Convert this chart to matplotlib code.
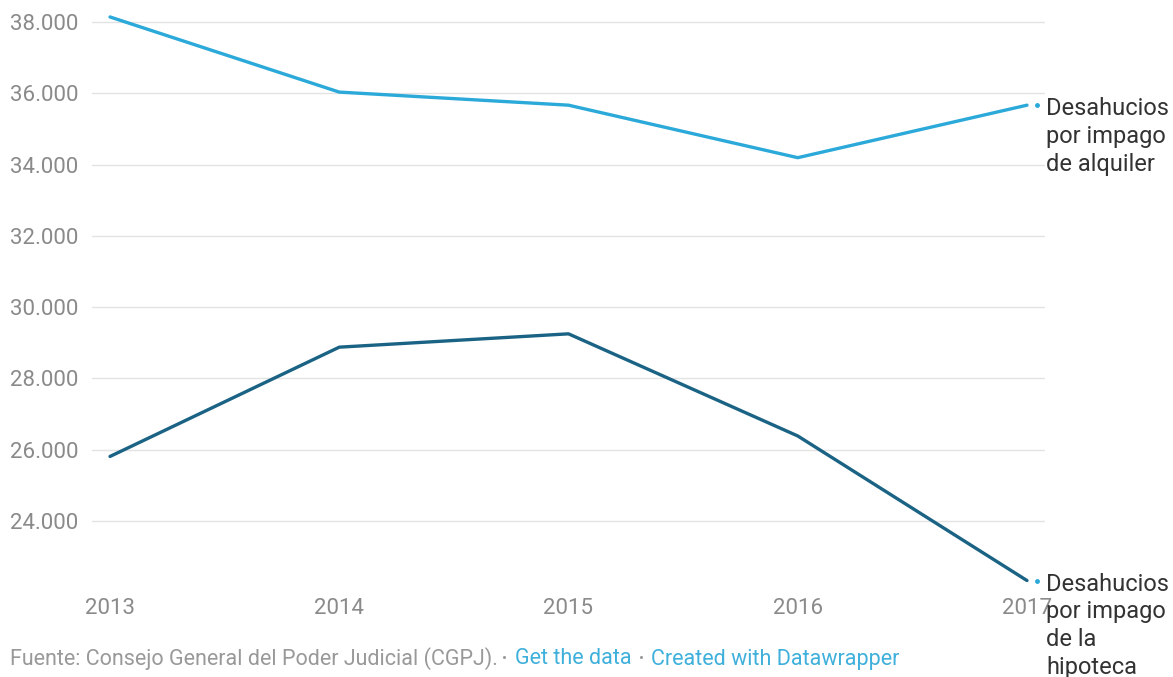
import matplotlib.pyplot as plt

plt.rcParams['font.family'] = ['Roboto', 'DejaVu Sans']

years = [2013, 2014, 2015, 2016, 2017]
alquiler = [38141, 36033, 35666, 34193, 35666]
hipoteca = [25811, 28877, 29251, 26386, 22330]
y_ticks = [24000, 26000, 28000, 30000, 32000, 34000, 36000, 38000]
y_labels = ['24.000', '26.000', '28.000', '30.000', '32.000', '34.000', '36.000', '38.000']
label_alquiler = 'Desahucios\npor impago\nde alquiler'
label_hipoteca = 'Desahucios\npor impago\nde la\nhipoteca'

light = '#2ba9d9'
dark = '#1b6384'
grey = '#8a8a8a'

W, H = 1173, 677
fig = plt.figure(figsize=(W / 100, H / 100), dpi=100)
ax = fig.add_axes([92 / W, (H - 595) / H, (1045 - 92) / W, 580 / H])

ax.plot(years, alquiler, color=light, lw=2.4, solid_capstyle='round', zorder=3)
ax.plot(years, hipoteca, color=dark, lw=2.4, solid_capstyle='round', zorder=3)

# small connector dots before the labels
ax.plot([years[-1] + 0.045], [alquiler[-1]], 'o', color=light, ms=2.5, zorder=3)
ax.plot([years[-1] + 0.045], [hipoteca[-1]], 'o', color=light, ms=2.5, zorder=3)

ax.set_xlim(years[0] - 0.0786, years[-1] + 0.0786)
ax.set_ylim(21924, 38196)

ax.set_yticks(y_ticks)
ax.set_yticklabels(y_labels)
ax.set_xticks(years)
ax.set_xticklabels([str(y) for y in years])
ax.grid(axis='y', color='#e3e3e3', lw=1)
ax.set_axisbelow(True)
for s in ax.spines.values():
    s.set_visible(False)
ax.tick_params(axis='y', length=0, pad=10, labelsize=16, labelcolor=grey)
ax.tick_params(axis='x', length=0, pad=2, labelsize=16, labelcolor=grey)

# labels at the line ends (the lower one runs over "2017" like in the original)
ax.annotate(label_alquiler, xy=(years[-1], alquiler[-1]), xytext=(19, 8),
            textcoords='offset pixels', va='top', ha='left', fontsize=17,
            color='#333333', linespacing=1.27, annotation_clip=False)
ax.annotate(label_hipoteca, xy=(years[-1], hipoteca[-1]), xytext=(19, 8),
            textcoords='offset pixels', va='top', ha='left', fontsize=17,
            color='#333333', linespacing=1.27, annotation_clip=False)

# footer
fy = (H - 659) / H
fs = 15.5
fig.text(10 / W, fy, 'Fuente: Consejo General del Poder Judicial (CGPJ).', fontsize=fs,
         color='#999999', va='center', ha='left')
fig.text(502 / W, fy, '•', fontsize=11, color='#999999', va='center', ha='left')
fig.text(515 / W, fy, 'Get the data', fontsize=fs, color='#3fb0db', va='center', ha='left')
fig.text(639 / W, fy, '•', fontsize=11, color='#999999', va='center', ha='left')
fig.text(651 / W, fy, 'Created with Datawrapper', fontsize=fs, color='#3fb0db',
         va='center', ha='left')

fig.savefig('out.png', dpi=100)
